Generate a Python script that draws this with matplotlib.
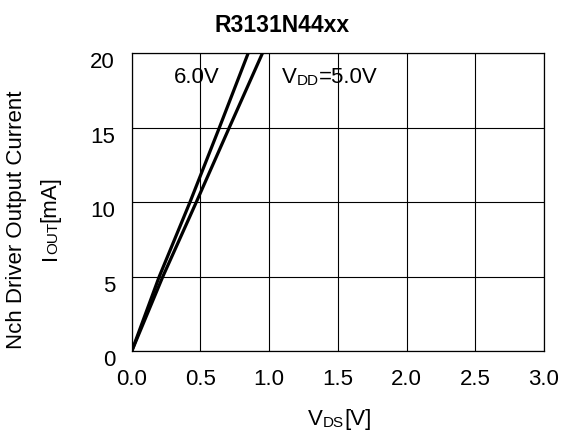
import matplotlib
matplotlib.use("Agg")
from matplotlib import pyplot as plt
import matplotlib.transforms as mtransforms

plt.rcParams['font.family'] = ['Liberation Sans', 'DejaVu Sans']

# current points [mA] and the drain-source voltage read for each supply
i_out = [0, 5, 10, 15, 20]
vds_6v = [0, 0.20, 0.424, 0.638, 0.848]
vds_5v = [0, 0.226, 0.47, 0.71, 0.952]

xticks = [0.0, 0.5, 1.0, 1.5, 2.0, 2.5, 3.0]
yticks = [0, 5, 10, 15, 20]

W, H = 565, 435
fig = plt.figure(figsize=(W / 100, H / 100), dpi=100)
ax = fig.add_axes([131.7 / W, 1 - 352.3 / H, (544 - 131.7) / W, (352.3 - 54) / H])

ax.plot(vds_6v, i_out, color="black", lw=2.3, solid_capstyle="round")
ax.plot(vds_5v, i_out, color="black", lw=2.3, solid_capstyle="round")

ax.set_xlim(0, 3)
ax.set_ylim(0, 20)
ax.set_xticks(xticks)
ax.set_xticklabels(["%.1f" % t for t in xticks])
ax.set_yticks(yticks)
ax.grid(True, color="black", lw=0.8)
for s in ax.spines.values():
    s.set_linewidth(0.9)
ax.tick_params(axis="both", length=0, labelsize=16)
ax.tick_params(axis="x", pad=12)
ax.tick_params(axis="y", pad=12)
off = mtransforms.ScaledTranslation(0, -6 / 100, fig.dpi_scale_trans)
for lab in ax.get_yticklabels():
    lab.set_transform(lab.get_transform() + off)


def chain(first, parts, rotation=0):
    # put text pieces one after the other, small ones for the subscripts
    prev = first
    for txt, size in parts:
        if rotation == 0:
            prev = ax.annotate(txt, xy=(1, 0), xycoords=prev, fontsize=size,
                               va="bottom", ha="left", annotation_clip=False)
        else:
            prev = ax.annotate(txt, xy=(1, 1), xycoords=prev, fontsize=size,
                               va="bottom", ha="right", rotation=90,
                               annotation_clip=False)
    return prev


# labels inside plot
ax.text(0.308, 18.04, "6.0V", fontsize=16, va="baseline")
t = ax.text(1.094, 18.04, "V", fontsize=16, va="baseline")
chain(t, [("DD", 11), ("=5.0V", 16)])

# title
fig.text(0.5, 1 - 32 / H, "R3131N44xx", fontsize=16.5, fontweight="bold",
         ha="center", va="baseline")

# x label
t = fig.text(308 / W, 1 - 425 / H, "V", fontsize=16, va="baseline")
chain(t, [("DS", 11), ("[V]", 16)])

# y label
fig.text(17 / W, 1 - 220 / H, "Nch Driver Output Current", fontsize=16,
         rotation=90, ha="center", va="center")
t = fig.text(50 / W, 1 - 260 / H, "I", fontsize=16, rotation=90,
             ha="center", va="bottom")
chain(t, [("OUT", 11), ("[mA]", 16)], rotation=90)

fig.savefig("out.png", dpi=100)
